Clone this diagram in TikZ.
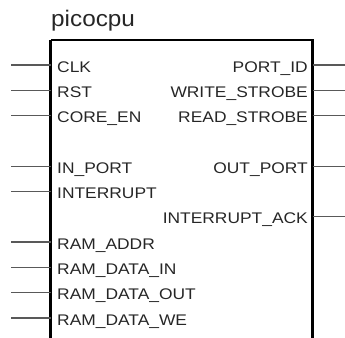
\documentclass[tikz,border=0pt]{standalone}
\usepackage{fontspec}
\setmainfont{Liberation Sans}
\newfontfamily\pinfont[FakeStretch=1.13]{Liberation Sans}
\newfontfamily\titlefont[FakeStretch=1.08]{Liberation Sans}
\begin{document}
\begin{tikzpicture}[x=1pt,y=-1pt,
  pinlbl/.style={inner sep=0pt,font=\pinfont\fontsize{15.4}{16}\selectfont,text=black!85},
  wire/.style={draw=black!65,line width=1.3pt},
  boxline/.style={draw=black,line width=2.5pt}]
\useasboundingbox (0,0) rectangle (345,337);
\clip (0,0) rectangle (345,337);
\node[anchor=base west,inner sep=0pt,font=\titlefont\fontsize{22.5}{24}\selectfont,text=black!85] (title) at (51,26.5) {picocpu};
\draw[boxline] (50.5,40) -- (50.5,345) (312.5,345) -- (312.5,40) -- (50.5,40);
% left pins
\foreach \n/\t/\k in {clk/CLK/0,rst/RST/1,coreen/CORE\_EN/2,inport/IN\_PORT/4,intr/INTERRUPT/5,ramaddr/RAM\_ADDR/7,ramdin/RAM\_DATA\_IN/8,ramdout/RAM\_DATA\_OUT/9,ramwe/RAM\_DATA\_WE/10}{
  \pgfmathsetmacro\y{65+25.3*\k}
  \node[pinlbl,anchor=base west] (\n) at (57,\y+7) {\t};
  \coordinate (\n-in) at (50.5,\y);
  \coordinate (\n-ext) at (11,\y);
  \draw[wire] (\n-ext) -- (\n-in);
}
% right pins
\foreach \n/\t/\k in {portid/PORT\_ID/0,wstb/WRITE\_STROBE/1,rstb/READ\_STROBE/2,outport/OUT\_PORT/4,intack/INTERRUPT\_ACK/6}{
  \pgfmathsetmacro\y{65+25.3*\k}
  \node[pinlbl,anchor=base east] (\n) at (308,\y+7) {\t};
  \coordinate (\n-out) at (312.5,\y);
  \coordinate (\n-ext) at (345,\y);
  \draw[wire] (\n-out) -- (\n-ext);
}
\end{tikzpicture}
\end{document}
